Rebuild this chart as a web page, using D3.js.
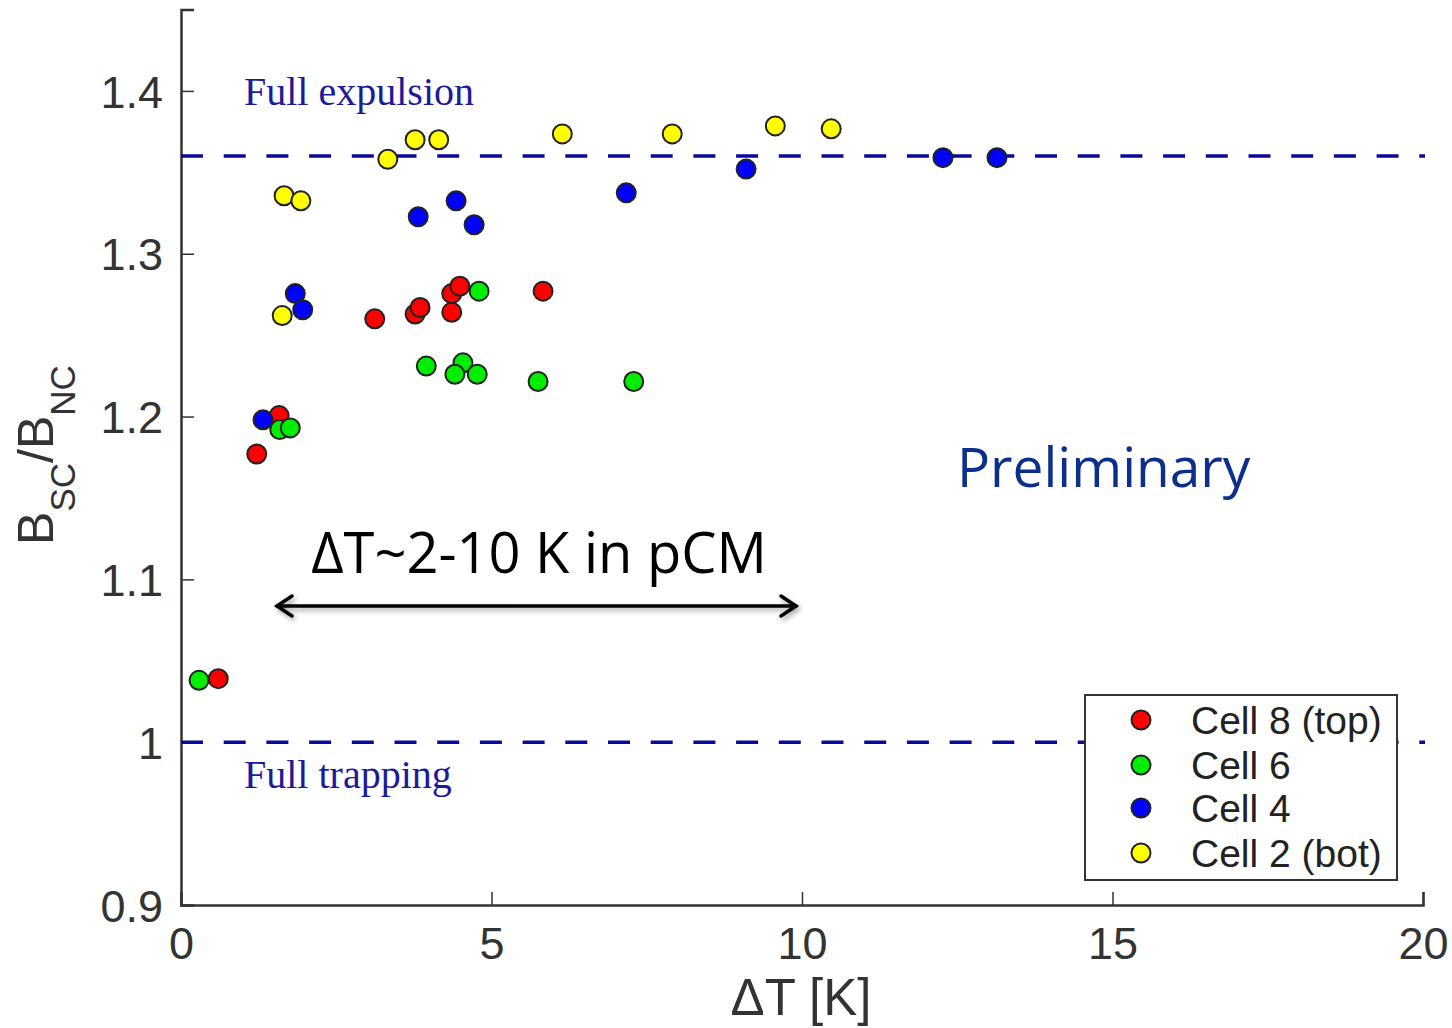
<!DOCTYPE html>
<html><head><meta charset="utf-8">
<script src="https://cdn.jsdelivr.net/npm/d3@7"></script>
<style>body{margin:0;background:#fff}svg{display:block}</style>
</head><body>
<svg id="c" width="1452" height="1028"></svg>
<script>
const seriesNames = ["Cell 8 (top)", "Cell 6", "Cell 4", "Cell 2 (bot)"];
const seriesColors = ["#ff0000", "#00ee00", "#0000ff", "#ffff00"];
const cell8 = [[3.12,1.260],[3.77,1.263],[3.85,1.267],[4.36,1.264],[4.36,1.2755],[4.49,1.280],[5.83,1.277],[1.58,1.2006],[1.22,1.177],[0.60,1.039]];
const cell6 = [[4.80,1.277],[3.95,1.231],[4.54,1.233],[4.41,1.226],[4.77,1.226],[5.75,1.2215],[7.29,1.2215],[1.59,1.192],[1.76,1.193],[0.29,1.038]];
const cell4 = [[3.82,1.3227],[4.43,1.3325],[4.72,1.3178],[7.17,1.3374],[9.10,1.352],[12.27,1.359],[13.14,1.359],[1.84,1.2755],[1.96,1.2656],[1.32,1.198]];
const cell2 = [[1.66,1.3356],[1.93,1.3325],[1.63,1.262],[3.33,1.358],[3.77,1.370],[4.15,1.370],[6.14,1.3736],[7.91,1.3736],[9.57,1.3785],[10.47,1.3767]];
const xTicks = [0,5,10,15,20];
const yTicks = [0.9,1.0,1.1,1.2,1.3,1.4];
const refLines = [1.36, 1.0];

const svg = d3.select("#c");
const x = d3.scaleLinear().domain([0,20]).range([181,1423]);
const y = d3.scaleLinear().domain([0.9,1.45]).range([905,9.5]);
const axisCol = "#333";
const sans = "Liberation Sans, Arial, sans-serif";

// axes
const gx = svg.append("g").attr("transform","translate(0,905)")
  .call(d3.axisBottom(x).tickValues(xTicks).tickSize(-13).tickPadding(22).tickFormat(d3.format("d")));
const gy = svg.append("g").attr("transform","translate(181,0)")
  .call(d3.axisLeft(y).tickValues(yTicks).tickSize(-13).tickPadding(18).tickFormat(d=> d===1?"1":d3.format(".1f")(d)));
[gx,gy].forEach(g=>{
  g.select(".domain").attr("stroke",axisCol).attr("stroke-width",2.5);
  g.selectAll(".tick line").attr("stroke",axisCol).attr("stroke-width",1.5);
  g.selectAll(".tick text").attr("fill","#333").attr("font-family",sans).attr("font-size",45);
});
gx.selectAll(".tick text").attr("dy","0.71em");
gy.selectAll(".tick text").attr("dy","0.36em");

// axis labels
svg.append("text").attr("x",801).attr("y",1015).attr("text-anchor","middle")
  .attr("font-family",sans).attr("font-size",51).attr("fill","#333").text("ΔT [K]");
const yl = svg.append("text").attr("transform","translate(53,455) rotate(-90)").attr("text-anchor","middle")
  .attr("font-family",sans).attr("font-size",50).attr("fill","#333");
yl.append("tspan").text("B");
yl.append("tspan").attr("font-size",35).attr("dy",22).text("SC");
yl.append("tspan").attr("dy",-22).text("/B");
yl.append("tspan").attr("font-size",35).attr("dy",22).text("NC");

// reference lines
svg.selectAll(".ref").data(refLines).enter().append("line")
  .attr("x1",x(0)).attr("x2",x(20)+2).attr("y1",d=>y(d)).attr("y2",d=>y(d))
  .attr("stroke","#0a0a9a").attr("stroke-width",3.5).attr("stroke-dasharray","22,20.7");

svg.append("text").attr("x",244).attr("y",105).attr("font-family","Liberation Serif, Times New Roman, serif")
  .attr("font-size",40).attr("fill","#1a1a9a").text("Full expulsion");
svg.append("text").attr("x",244).attr("y",788).attr("font-family","Liberation Serif, Times New Roman, serif")
  .attr("font-size",40).attr("fill","#1a1a9a").text("Full trapping");

// points
const all = [cell8, cell6, cell4, cell2];
all.forEach((s,i)=>{
  svg.append("g").selectAll("circle").data(s).enter().append("circle")
    .attr("cx",d=>x(d[0])).attr("cy",d=>y(d[1])).attr("r",9.5)
    .attr("fill",seriesColors[i]).attr("stroke","#222").attr("stroke-width",2);
});

// annotations
svg.append("text").attr("x",957).attr("y",487).attr("font-family","Open Sans, Noto Sans, sans-serif")
  .attr("font-size",55).attr("fill","#0b2f8a").text("Preliminary");
svg.append("text").attr("x",539).attr("y",573).attr("text-anchor","middle").attr("font-family","Open Sans, Noto Sans, sans-serif")
  .attr("font-size",56).attr("fill","#000").text("ΔT~2-10 K in pCM");

const defs = svg.append("defs");
const f = defs.append("filter").attr("id","sh").attr("x","-10%").attr("y","-100%").attr("width","120%").attr("height","300%");
f.append("feDropShadow").attr("dx",2).attr("dy",3).attr("stdDeviation",2.5).attr("flood-color","#000").attr("flood-opacity",0.35);
const ar = svg.append("g").attr("filter","url(#sh)").attr("stroke","#000").attr("stroke-width",3.5).attr("fill","none").attr("stroke-linecap","round");
ar.append("line").attr("x1",277).attr("x2",796).attr("y1",606).attr("y2",606);
ar.append("path").attr("d","M292,596 L277,606 L292,616");
ar.append("path").attr("d","M781,596 L796,606 L781,616");

// legend
const lg = svg.append("g");
lg.append("rect").attr("x",1085).attr("y",695).attr("width",312).attr("height",185)
  .attr("fill","#fff").attr("stroke","#333").attr("stroke-width",2);
const ly = [720,765,808,853];
seriesNames.forEach((n,i)=>{
  lg.append("circle").attr("cx",1141).attr("cy",ly[i]).attr("r",9.5).attr("fill",seriesColors[i]).attr("stroke","#222").attr("stroke-width",2);
  lg.append("text").attr("x",1191).attr("y",ly[i]+14).attr("font-family",sans)
    .attr("font-size",39).attr("fill","#222").text(n);
});
</script>
</body></html>
